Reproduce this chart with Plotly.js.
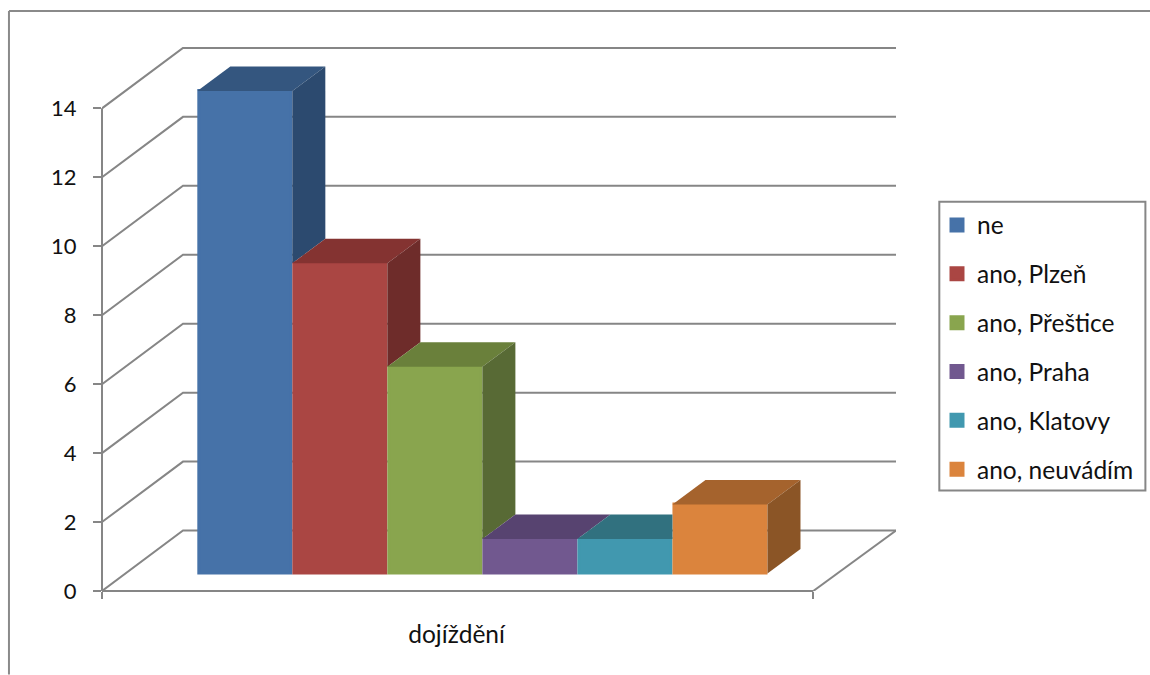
<!DOCTYPE html>
<html><head><meta charset="utf-8">
<script src="https://cdn.plot.ly/plotly-3.0.1.min.js"></script>
<style>html,body{margin:0;padding:0;background:#fff;overflow:hidden}</style>
</head><body><div id="chart" style="width:1150px;height:675px"></div>
<script>
const categories = ["ne","ano, Plzeň","ano, Přeštice","ano, Praha","ano, Klatovy","ano, neuvádím"];
const values = [14,9,6,1,1,2];
const frontColors = ["#4672A8","#AA4643","#89A54E","#71588F","#4198AF","#DB843D"];
const topColors = ["#34567F","#843331","#6A803B","#574370","#31717F","#A5632D"];
const sideColors = ["#2C4A6F","#6E2C2A","#586A35","#4A3A60","#2A5F6E","#8B5526"];
const yTicks = [0,2,4,6,8,10,12,14];
const groupLabel = "dojíždění";

// projection constants for the fake 3D box (axis units)
const xMax = 1.1163, yMax = 15.78;
const wallDx = 0.1139, wallDy = 1.754;
const barStart = 0.1340, barWidth = 0.1336;
const barDx = 0.0464, barDy = 0.71, barBase = 0.507;
const lineColor = "#868686";
// bars carry a 3px same-colour outline so the legend swatches are 15px; inset to compensate
const strokeX = 3/711, strokeY = 0.5/34.5;

const traces = [];
categories.forEach((name,i)=>{
  const x0 = barStart + i*barWidth;
  traces.push({type:"bar",name:name,x:[x0+barWidth/2],y:[values[i]],base:[barBase+strokeY],width:[barWidth-strokeX],
    marker:{color:frontColors[i],line:{width:3,color:frontColors[i]}},legendgroup:name,hoverinfo:"skip",showlegend:true});
});
categories.forEach((name,i)=>{
  const x0 = barStart + i*barWidth, x1 = x0 + barWidth;
  const h = barBase + values[i];
  const next = i+1 < values.length ? values[i+1] : 0;
  const nextTaller = next > values[i];
  const topX = nextTaller ? [x0,x1,x1,x0+barDx,x0] : [x0,x1,x1+barDx,x0+barDx,x0];
  const topY = [h,h,h+barDy,h+barDy,h];
  traces.push({type:"scatter",mode:"lines",x:topX,y:topY,fill:"toself",fillcolor:topColors[i],
    line:{width:0},showlegend:false,hoverinfo:"skip"});
  if(!nextTaller && next < values[i]){
    const low = i+1 < values.length ? barBase + next : barBase;
    traces.push({type:"scatter",mode:"lines",
      x:[x1,x1+barDx,x1+barDx,x1,x1],y:[h,h+barDy,low+barDy,low,h],
      fill:"toself",fillcolor:sideColors[i],line:{width:0},showlegend:false,hoverinfo:"skip"});
  }
});

const shapes = [];
yTicks.forEach(t=>{
  shapes.push({type:"path",xref:"x",yref:"y",layer:"below",
    path:`M0,${t} L${wallDx},${t+wallDy} L${xMax},${t+wallDy}`,line:{color:lineColor,width:2}});
});
// right floor edge
shapes.push({type:"line",xref:"x",yref:"y",layer:"below",x0:1,y0:0,x1:xMax,y1:wallDy,line:{color:lineColor,width:2}});
// value axis line and category axis line
shapes.push({type:"line",xref:"paper",yref:"y",layer:"below",x0:0,x1:0,y0:0,y1:yTicks[yTicks.length-1],line:{color:lineColor,width:2}});
shapes.push({type:"line",xref:"x",yref:"paper",layer:"below",x0:0,x1:1,y0:0,y1:0,line:{color:lineColor,width:2}});
// chart area frame (open at right and bottom, as cropped in the reference)
const L=102,R=254.3,T=47,B=83.5,PW=1150-L-R,PH=675-T-B;
const px=v=>(v-L)/PW, py=v=>(675-v-B)/PH;
shapes.push({type:"line",xref:"paper",yref:"paper",x0:px(9),x1:px(9),y0:py(11),y1:py(675),line:{color:"#8A8A8A",width:2}});
shapes.push({type:"line",xref:"paper",yref:"paper",x0:px(9),x1:px(1150),y0:py(11),y1:py(11),line:{color:"#8A8A8A",width:2}});
// legend frame
shapes.push({type:"rect",xref:"paper",yref:"paper",x0:px(939),x1:px(1145),y0:py(202),y1:py(491),line:{color:lineColor,width:2}});

const family = "Lato, 'Open Sans', sans-serif";
const layout = {
  width:1150,height:675,autosize:false,
  margin:{l:L,r:R,t:T,b:B,pad:0},
  paper_bgcolor:"#fff",plot_bgcolor:"rgba(0,0,0,0)",
  barmode:"overlay",font:{family:family,size:24,color:"#111"},shapes:shapes,
  xaxis:{range:[0,xMax],showgrid:false,zeroline:false,showline:false,fixedrange:true,
    tickmode:"array",tickvals:[0.4985],ticktext:[groupLabel],ticks:"",ticklabelstandoff:26,
    tickfont:{family:family,size:24.5,color:"#111"},
    minor:{tickmode:"array",tickvals:[0,1],ticks:"outside",ticklen:7,tickwidth:2,tickcolor:lineColor,showgrid:false}},
  yaxis:{range:[0,yMax],showgrid:false,zeroline:false,showline:false,fixedrange:true,
    tickmode:"array",tickvals:yTicks,ticktext:yTicks.map(String),ticks:"outside",ticklen:8,tickwidth:2,tickcolor:lineColor,
    ticklabelstandoff:12,tickfont:{family:family,size:22,color:"#111"}},
  legend:{xref:"container",yref:"container",x:937/1150,y:1-202.5/675,xanchor:"left",yanchor:"top",
    bgcolor:"rgba(0,0,0,0)",borderwidth:0,font:{family:family,size:24.5,color:"#111"},tracegroupgap:14,
    itemclick:false,itemdoubleclick:false},
  showlegend:true
};
Plotly.newPlot("chart",traces,layout,{displayModeBar:false});
</script></body></html>
